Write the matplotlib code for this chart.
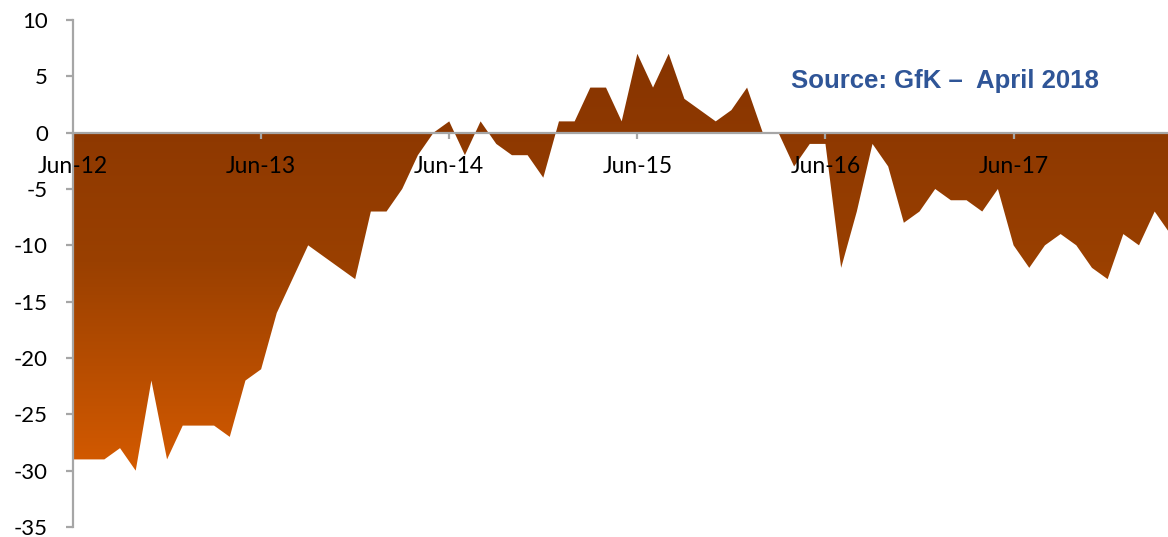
import numpy as np
import matplotlib.pyplot as plt
from matplotlib.colors import LinearSegmentedColormap

# Monthly balance, Jun 2012 .. Apr 2018
values = [
    -29, -29, -29, -28, -30, -22, -29, -26, -26, -26, -27, -22,   # Jun-12 .. May-13
    -21, -16, -13, -10, -11, -12, -13, -7, -7, -5, -2, 0,          # Jun-13 .. May-14
    1, -2, 1, -1, -2, -2, -4, 1, 1, 4, 4, 1,                       # Jun-14 .. May-15
    7, 4, 7, 3, 2, 1, 2, 4, 0, 0, -3, -1,                          # Jun-15 .. May-16
    -1, -12, -7, -1, -3, -8, -7, -5, -6, -6, -7, -5,               # Jun-16 .. May-17
    -10, -12, -10, -9, -10, -12, -13, -9, -10, -7, -9,             # Jun-17 .. Apr-18
]
tick_labels = ["Jun-12", "Jun-13", "Jun-14", "Jun-15", "Jun-16", "Jun-17"]
y_ticks = [10, 5, 0, -5, -10, -15, -20, -25, -30, -35]
source_text = "Source: GfK \u2013  April 2018"

GREY = "#A6A6A6"


def main():
    y = np.array(values, dtype=float)
    x = np.arange(len(y))

    fig = plt.figure(figsize=(11.68, 5.37), dpi=100)
    ax = fig.add_axes([0.0625, 0.0186, 0.9375, 0.9442])
    ax.set_xlim(0, 69.85)
    ax.set_ylim(-35, 10)

    # area polygon, used as a clip for the vertical gradient
    poly = ax.fill_between(x, y, 0, color="none", linewidth=0)
    cmap = LinearSegmentedColormap.from_list("brown_orange", ["#873400", "#9A4000", "#D45A00"])
    grad = np.linspace(0, 1, 256).reshape(-1, 1)
    img = ax.imshow(grad, cmap=cmap, aspect="auto", origin="upper",
                    extent=[x.min(), x.max(), y.min(), y.max()], zorder=1)
    img.set_clip_path(poly.get_paths()[0], transform=ax.transData)

    # axes styling
    for side in ("top", "right"):
        ax.spines[side].set_visible(False)
    ax.spines["left"].set_color(GREY)
    ax.spines["left"].set_linewidth(1.6)
    ax.spines["bottom"].set_position(("data", 0))
    ax.spines["bottom"].set_color(GREY)
    ax.spines["bottom"].set_linewidth(1.6)
    ax.spines["bottom"].set_zorder(3)

    ax.set_yticks(y_ticks)
    ax.set_yticklabels([str(t) for t in y_ticks])
    ax.tick_params(axis="y", direction="out", length=5, width=1.6, color=GREY,
                   labelsize=16, pad=13)

    ax.set_xticks(np.arange(0, 12 * len(tick_labels), 12))
    ax.set_xticklabels(tick_labels)
    ax.tick_params(axis="x", direction="out", length=4, width=1.6, color=GREY,
                   labelsize=16.5, pad=13)
    for lbl in ax.get_xticklabels() + ax.get_yticklabels():
        lbl.set_fontfamily("Lato")
        lbl.set_zorder(5)

    ax.text(0.796, 0.88, source_text, transform=ax.transAxes, ha="center", va="center",
            fontsize=18.5, fontweight="bold", family="Liberation Sans", color="#2F5597")

    fig.savefig("out.png", dpi=100)


if __name__ == "__main__":
    main()
